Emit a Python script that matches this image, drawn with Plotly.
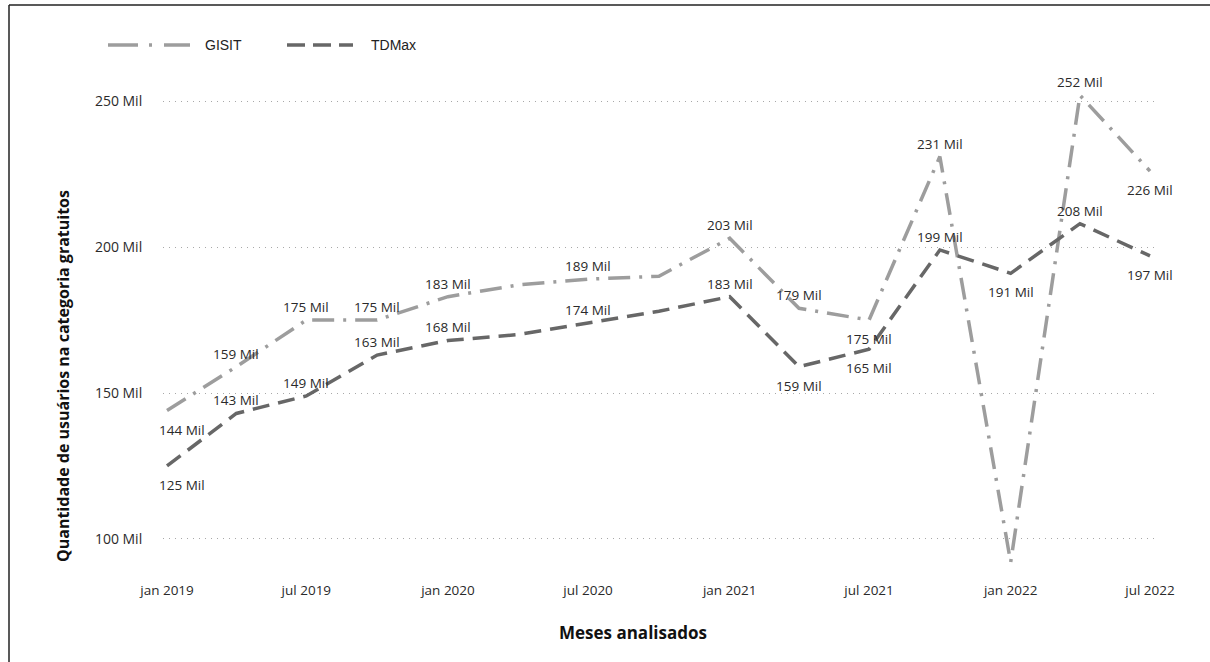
import plotly.graph_objects as go

# Monthly samples (quarterly) and the two series, in thousands of users
months = ["2019-01-01", "2019-04-01", "2019-07-01", "2019-10-01",
          "2020-01-01", "2020-04-01", "2020-07-01", "2020-10-01",
          "2021-01-01", "2021-04-01", "2021-07-01", "2021-10-01",
          "2022-01-01", "2022-04-01", "2022-07-01"]
gisit = [144, 159, 175, 175, 183, 187, 189, 190, 203, 179, 175, 231, 92, 252, 226]
tdmax = [125, 143, 149, 163, 168, 170, 174, 178, 183, 159, 165, 199, 191, 208, 197]

# Which points carry a value label, and on which side of the line
gisit_label_side = ["below", "above", "above", "above", "above", None, "above", None,
                    "above", "above", "below", "above", None, "above", "below"]
tdmax_label_side = ["below", "above", "above", "above", "above", None, "above", None,
                    "above", "below", "below", "above", "below", "above", "below"]

x_tick_dates = ["2019-01-01", "2019-07-01", "2020-01-01", "2020-07-01",
                "2021-01-01", "2021-07-01", "2022-01-01", "2022-07-01"]
x_tick_text = ["jan 2019", "jul 2019", "jan 2020", "jul 2020",
               "jan 2021", "jul 2021", "jan 2022", "jul 2022"]
y_tick_vals = [100, 150, 200, 250]
y_tick_text = ["100 Mil", "150 Mil", "200 Mil", "250 Mil"]

GISIT_COLOR = "#9d9d9d"
TDMAX_COLOR = "#676767"
GISIT_DASH = "22px,9px,3px,9px"
TDMAX_DASH = "17px,9px"
FONT = "Open Sans"
TEXT_COLOR = "#2a2a2a"

# Plot-area geometry in pixels (1210 x 662 canvas)
W, H = 1210, 662
L, R, T, B = 163, 54, 78, 88

fig = go.Figure()
fig.add_trace(go.Scatter(x=months, y=gisit, mode="lines", name="GISIT",
                         line=dict(color=GISIT_COLOR, width=3.5, dash=GISIT_DASH),
                         showlegend=False))
fig.add_trace(go.Scatter(x=months, y=tdmax, mode="lines", name="TDMax",
                         line=dict(color=TDMAX_COLOR, width=3.5, dash=TDMAX_DASH),
                         showlegend=False))

annotations = []


def add_value_labels(values, sides):
    for i, (d, v, side) in enumerate(zip(months, values, sides)):
        if side is None:
            continue
        annotations.append(dict(
            x=d, y=v, xref="x", yref="y", text=f"{v} Mil", showarrow=False,
            xanchor="center", yanchor="middle",
            font=dict(family=FONT, size=13.5, color=TEXT_COLOR),
            xshift=15 if i == 0 else 0,
            yshift=13 if side == "above" else -19,
        ))


add_value_labels(gisit, gisit_label_side)
add_value_labels(tdmax, tdmax_label_side)


def px_to_paper(px, py):
    return (px - L) / (W - L - R), (H - B - py) / (H - T - B)


# Axis titles
ax, ay = px_to_paper(633, 632)
annotations.append(dict(x=ax, y=ay, xref="paper", yref="paper", showarrow=False,
                        xanchor="center", yanchor="middle",
                        text="Meses analisados",
                        font=dict(family=FONT, size=17, color="#111111", weight="bold")))
ax, ay = px_to_paper(63, 376)
annotations.append(dict(x=ax, y=ay, xref="paper", yref="paper", showarrow=False,
                        xanchor="center", yanchor="middle", textangle=-90,
                        text="Quantidade de usuários na categoria gratuitos",
                        font=dict(family=FONT, size=16, color="#111111", weight="bold")))

shapes = []

# Legend: line samples drawn as shapes, names as text
for x0, x1, color, dash, name, tx in [
    (108, 190, GISIT_COLOR, "30px,11px,3px,12px", "GISIT", 203),
    (287, 353, TDMAX_COLOR, "18px,8px", "TDMax", 369),
]:
    p0 = px_to_paper(x0, 45)
    p1 = px_to_paper(x1, 45)
    shapes.append(dict(type="line", xref="paper", yref="paper",
                       x0=p0[0], y0=p0[1], x1=p1[0], y1=p1[1],
                       line=dict(color=color, width=3.5, dash=dash)))
    pt = px_to_paper(tx, 45)
    annotations.append(dict(x=pt[0], y=pt[1], xref="paper", yref="paper",
                            xanchor="left", yanchor="middle", showarrow=False, text=name,
                            font=dict(family="Liberation Sans", size=14, color="#222222")))

# Frame along the top and left edges
a = px_to_paper(9, 5)
b = px_to_paper(W, 5)
c = px_to_paper(9, H)
shapes.append(dict(type="line", xref="paper", yref="paper", x0=a[0], y0=a[1], x1=b[0], y1=b[1],
                   line=dict(color="#222222", width=1.5)))
shapes.append(dict(type="line", xref="paper", yref="paper", x0=a[0], y0=a[1], x1=c[0], y1=c[1],
                   line=dict(color="#222222", width=1.5)))

fig.update_layout(
    width=W, height=H,
    margin=dict(l=L, r=R, t=T, b=B, pad=0),
    paper_bgcolor="white", plot_bgcolor="white",
    showlegend=False,
    annotations=annotations,
    shapes=shapes,
    xaxis=dict(
        type="date",
        range=["2018-12-26 19:00", "2022-07-08 19:00"],
        tickvals=x_tick_dates, ticktext=x_tick_text,
        tickfont=dict(family=FONT, size=13.5, color=TEXT_COLOR),
        showgrid=False, zeroline=False, showline=False,
        ticks="outside", ticklen=4, tickcolor="rgba(0,0,0,0)",
    ),
    yaxis=dict(
        range=[88.0, 257.9],
        tickvals=y_tick_vals, ticktext=y_tick_text,
        tickfont=dict(family=FONT, size=14, color=TEXT_COLOR),
        showgrid=True, gridcolor="#a8a8a8", griddash="1px,5px", gridwidth=1,
        zeroline=False, showline=False,
        ticks="outside", ticklen=17, tickcolor="rgba(0,0,0,0)",
    ),
)

fig.write_html("out.html")
